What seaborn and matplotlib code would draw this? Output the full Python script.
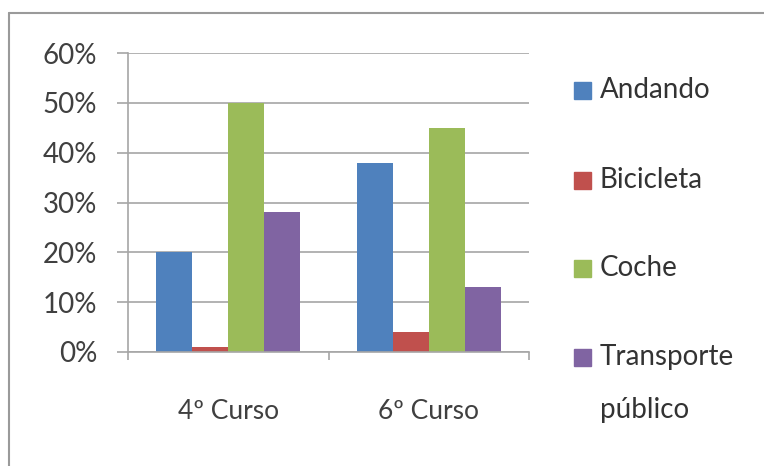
import matplotlib
matplotlib.use("Agg")
import matplotlib.pyplot as plt
from matplotlib.patches import Rectangle
from matplotlib.lines import Line2D
from matplotlib.ticker import PercentFormatter
import seaborn as sns
import pandas as pd

cursos = ["4º Curso", "6º Curso"]
medios = ["Andando", "Bicicleta", "Coche", "Transporte\npúblico"]
andando = [20, 38]
bicicleta = [1, 4]
coche = [50, 45]
transporte = [28, 13]
colores = ["#4F81BD", "#C0504D", "#9BBB59", "#8064A2"]

rows = []
for serie, vals in zip(medios, [andando, bicicleta, coche, transporte]):
    for c, v in zip(cursos, vals):
        rows.append({"Curso": c, "Medio": serie, "valor": v})
df = pd.DataFrame(rows)

sns.set_style("white")
plt.rcParams["font.family"] = ["Lato", "DejaVu Sans"]

fig = plt.figure(figsize=(7.64, 4.66), dpi=100)
ax = fig.add_axes([128/764, 1-352/466, (529-128)/764, (352-53)/466])

sns.barplot(data=df, x="Curso", y="valor", hue="Medio", hue_order=medios,
            palette=colores, width=0.72, linewidth=0, saturation=1,
            legend=False, ax=ax)

ax.set_ylim(0, 60)
ax.set_xlim(-0.5, 1.5)
ax.set_yticks([0, 10, 20, 30, 40, 50, 60])
ax.yaxis.set_major_formatter(PercentFormatter(decimals=0))
ax.grid(axis="y", color="#A6A6A6", linewidth=1.2)
ax.set_axisbelow(True)
for s in ["top", "right"]:
    ax.spines[s].set_visible(False)
ax.spines["left"].set_color("#A6A6A6")
ax.spines["bottom"].set_color("#A6A6A6")
ax.spines["left"].set_linewidth(1.2)
ax.spines["bottom"].set_linewidth(1.2)

ax.tick_params(axis="y", left=True, length=8, width=1.2, color="#A6A6A6",
               pad=14, labelsize=20, labelcolor="#404040")
ax.tick_params(axis="x", which="major", bottom=False, pad=30,
               labelsize=19, labelcolor="#404040")
ax.set_xticks([-0.5, 0.5, 1.5], minor=True)
ax.tick_params(axis="x", which="minor", bottom=True, length=6, width=1.2,
               color="#A6A6A6")
ax.set_xlabel("")
ax.set_ylabel("")

# leyenda (a mano, las lineas de "Transporte / público" van muy separadas)
ys = [90, 180, 268, 357]
for lab, col, y in zip(medios, colores, ys):
    fig.patches.append(Rectangle((574/764, 1-(y+9)/466), 17/764, 17/466,
                                 transform=fig.transFigure, color=col))
    for i, linea in enumerate(lab.split("\n")):
        fig.text(600/764, 1-(y + 53*i)/466, linea, fontsize=20, color="#333333",
                 va="center", ha="left")

# marco
fig.add_artist(Line2D([9/764, 1], [1-13/466, 1-13/466], color="#9A9A9A", lw=1.5))
fig.add_artist(Line2D([9/764, 9/764], [0, 1-13/466], color="#9A9A9A", lw=1.5))

fig.savefig("out.png", dpi=100)
